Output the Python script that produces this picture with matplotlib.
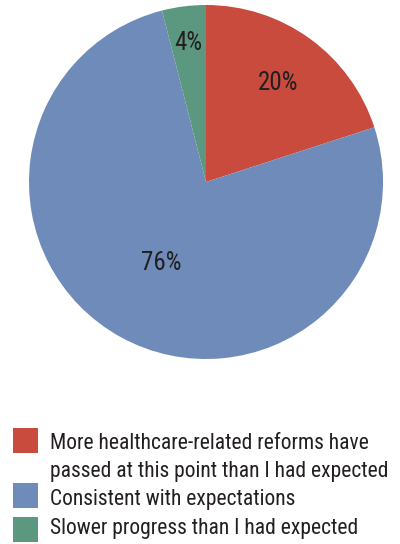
import numpy as np
import matplotlib
matplotlib.use("Agg")
import matplotlib.pyplot as plt
from matplotlib.patches import Rectangle

# Survey answers and their shares (percent)
labels = [
    ["More healthcare-related reforms have", "passed at this point than I had expected"],
    ["Consistent with expectations"],
    ["Slower progress than I had expected"],
]
shares = [20, 76, 4]
colors = ["#C84B3E", "#6E8BBA", "#5C9880"]
label_radius = [0.69, 0.52, 0.79]

plt.rcParams["font.family"] = ["Roboto Condensed", "Archivo Narrow", "DejaVu Sans"]
text_color = "#231F20"

W, H = 400, 544
fig = plt.figure(figsize=(W / 100, H / 100), dpi=100)

# pie area: center (206, 182), radius 177 px
cx, cy, r = 206, 182, 177
ax = fig.add_axes([(cx - r) / W, 1 - (cy + r) / H, 2 * r / W, 2 * r / H])
wedges, _ = ax.pie(shares, colors=colors, startangle=90, counterclock=False,
                   radius=1.0, wedgeprops=dict(linewidth=0))
ax.set_xlim(-1, 1)
ax.set_ylim(-1, 1)
ax.set_aspect("equal")
ax.axis("off")

# percentage labels at each wedge's mid angle
for w, s, rad in zip(wedges, shares, label_radius):
    ang = np.deg2rad((w.theta1 + w.theta2) / 2)
    ax.text(rad * np.cos(ang), rad * np.sin(ang), f"{s}%", ha="center", va="center",
            fontsize=18, color=text_color)

# legend built by hand in pixel coordinates
lax = fig.add_axes([0, 0, 1, 1])
lax.set_xlim(0, W)
lax.set_ylim(H, 0)
lax.axis("off")
box_tops = [428, 483, 517]
line_gap = 28
text_base = [449, 505, 534]
for col, lines, bt, tb in zip(colors, labels, box_tops, text_base):
    lax.add_patch(Rectangle((13, bt), 25, 25, facecolor=col, edgecolor="none"))
    for i, line in enumerate(lines):
        lax.text(50, tb + i * line_gap, line, ha="left", va="baseline", fontsize=15.5,
                 color=text_color)

fig.savefig("out.png", dpi=100)
